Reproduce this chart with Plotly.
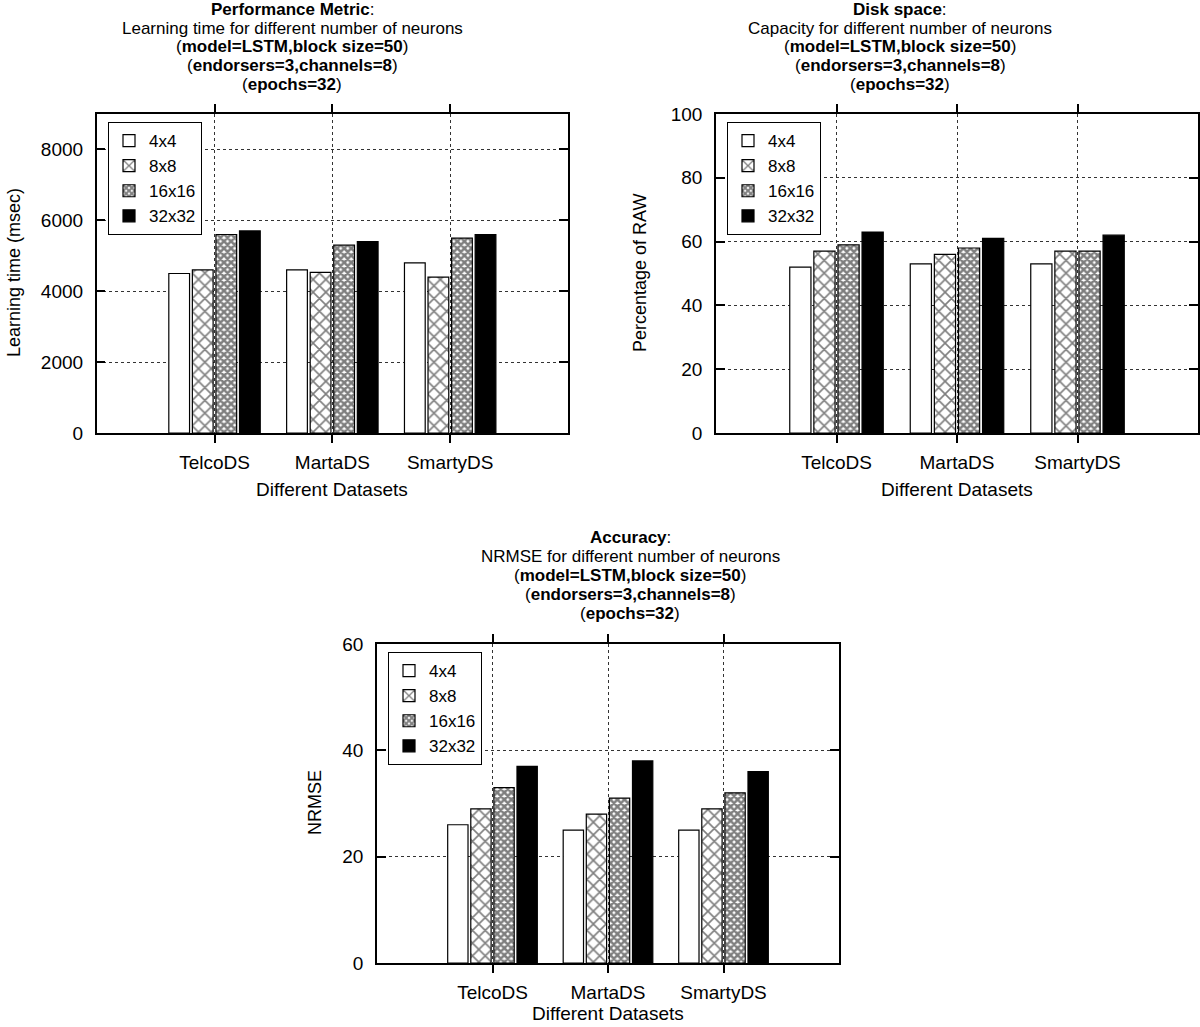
import plotly.graph_objects as go

W, H = 1200, 1027

datasets = ["TelcoDS", "MartaDS", "SmartyDS"]
neurons = ["4x4", "8x8", "16x16", "32x32"]

# Learning time (msec)
lt_4x4 = [4500, 4600, 4800]
lt_8x8 = [4600, 4530, 4400]
lt_16x16 = [5600, 5300, 5500]
lt_32x32 = [5700, 5400, 5600]

# Disk space (% of RAW)
ds_4x4 = [52, 53, 53]
ds_8x8 = [57, 56, 57]
ds_16x16 = [59, 58, 57]
ds_32x32 = [63, 61, 62]

# NRMSE
nr_4x4 = [26, 25, 25]
nr_8x8 = [29, 28, 29]
nr_16x16 = [33, 31, 32]
nr_32x32 = [37, 38, 36]

lt_ticks = [0, 2000, 4000, 6000, 8000]
ds_ticks = [0, 20, 40, 60, 80, 100]
nr_ticks = [0, 20, 40, 60]

FONT = "Liberation Sans, Arial, Helvetica, sans-serif"

def style(name):
    if name == "4x4":
        return dict(color="white", line=dict(color="black", width=1.2))
    if name == "8x8":
        return dict(color="white", line=dict(color="black", width=1.2),
                    pattern=dict(shape="x", size=9, solidity=0.33,
                                 fgcolor="black", bgcolor="white", fillmode="overlay"))
    if name == "16x16":
        return dict(color="white", line=dict(color="black", width=1.2),
                    pattern=dict(shape="x", size=5, solidity=0.75,
                                 fgcolor="black", bgcolor="white", fillmode="overlay"))
    return dict(color="black", line=dict(color="black", width=1.2))

fig = go.Figure()

panels = [
    ("x", "y", "legend", [lt_4x4, lt_8x8, lt_16x16, lt_32x32]),
    ("x2", "y2", "legend2", [ds_4x4, ds_8x8, ds_16x16, ds_32x32]),
    ("x3", "y3", "legend3", [nr_4x4, nr_8x8, nr_16x16, nr_32x32]),
]
for xa, ya, lg, series in panels:
    for name, vals in zip(neurons, series):
        fig.add_trace(go.Bar(x=datasets, y=vals, name=name, marker=style(name),
                             xaxis=xa, yaxis=ya, legend=lg, showlegend=True))

def px_x(p):
    return p / W

def px_y(p):
    return 1 - p / H

axis_common = dict(showline=True, linecolor="black", linewidth=1.5, mirror="ticks",
                   showgrid=True, gridcolor="#333333", griddash="dot", gridwidth=1,
                   tickfont=dict(family=FONT, size=19, color="black"), zeroline=False,
                   tickcolor="black", tickwidth=1.5, automargin=False)

def xaxis(domain, anchor):
    d = dict(axis_common)
    d.update(domain=domain, anchor=anchor, type="category", range=[-1, 3],
             ticks="outside", ticklen=8, ticklabelstandoff=3)
    return d

def yaxis(domain, anchor, rng, ticks):
    d = dict(axis_common)
    d.update(domain=domain, anchor=anchor, range=rng, tickvals=ticks,
             ticks="inside", ticklen=9, ticklabelstandoff=8)
    return d

top1, bot1 = px_y(433), px_y(114)
top3, bot3 = px_y(963), px_y(644)

layout = dict(
    width=W, height=H, margin=dict(l=0, r=0, t=0, b=0, pad=0, autoexpand=False),
    paper_bgcolor="white", plot_bgcolor="white",
    barmode="group", bargap=0.2, bargroupgap=0.12,
    font=dict(family=FONT, color="black"),
    xaxis=xaxis([px_x(96.7), px_x(568)], "y"),
    yaxis=yaxis([top1, bot1], "x", [0, 9000], lt_ticks),
    xaxis2=xaxis([px_x(716), px_x(1198)], "y2"),
    yaxis2=yaxis([top1, bot1], "x2", [0, 100], ds_ticks),
    xaxis3=xaxis([px_x(377), px_x(839)], "y3"),
    yaxis3=yaxis([top3, bot3], "x3", [0, 60], nr_ticks),
)

def leg(x, y):
    return dict(x=px_x(x), y=px_y(y), xanchor="left", yanchor="top",
                bordercolor="black", borderwidth=1, bgcolor="white",
                font=dict(family=FONT, size=17, color="black"),
                tracegroupgap=0, itemwidth=30)

layout["legend"] = leg(108, 122)
layout["legend2"] = leg(727, 122)
layout["legend3"] = leg(388, 652)

fig.update_layout(**layout)

def title_lines(first, second):
    return [
        "<b>%s</b>:" % first,
        second,
        "(<b>model=LSTM,block size=50</b>)",
        "(<b>endorsers=3,channels=8</b>)",
        "(<b>epochs=32</b>)",
    ]

titles = [
    (292, [10, 28, 47, 66, 85], title_lines("Performance Metric", "Learning time for different number of neurons")),
    (900, [10, 28, 47, 66, 85], title_lines("Disk space", "Capacity for different number of neurons")),
    (630, [537, 556, 575, 594, 613], title_lines("Accuracy", "NRMSE for different number of neurons")),
]
for cx, ys, lines in titles:
    for yy, txt in zip(ys, lines):
        fig.add_annotation(text=txt, x=px_x(cx), y=px_y(yy), xref="paper", yref="paper",
                           xanchor="center", yanchor="middle", showarrow=False,
                           font=dict(family=FONT, size=17, color="black"))

# axis titles
xlabels = [(332, 490), (957, 490), (608, 1013)]
for cx, cy in xlabels:
    fig.add_annotation(text="Different Datasets", x=px_x(cx), y=px_y(cy), xref="paper", yref="paper",
                       xanchor="center", yanchor="middle", showarrow=False,
                       font=dict(family=FONT, size=19, color="black"))

ylabels = [("Learning time (msec)", 14, 273), ("Percentage of RAW", 640, 273), ("NRMSE", 315, 803)]
for txt, cx, cy in ylabels:
    fig.add_annotation(text=txt, x=px_x(cx), y=px_y(cy), xref="paper", yref="paper",
                       xanchor="center", yanchor="middle", showarrow=False, textangle=-90,
                       font=dict(family=FONT, size=18, color="black"))

fig.write_html(
    "out.html",
    config={"displayModeBar": False},
    post_script=(
        "document.documentElement.style.margin='0';"
        "document.body.style.margin='0';"
        "document.body.style.overflow='hidden';"
        "document.documentElement.style.overflow='hidden';"
        "var g=document.getElementsByClassName('plotly-graph-div')[0];"
        "g.style.position='absolute';g.style.top='0px';g.style.left='0px';"
    ),
)
